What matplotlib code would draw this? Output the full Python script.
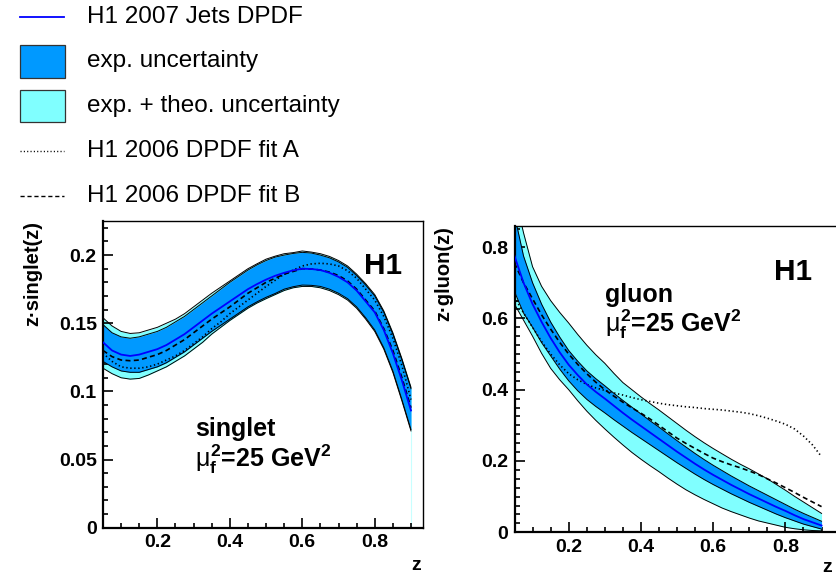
import numpy as np
import matplotlib
matplotlib.use("Agg")
import matplotlib.pyplot as plt
from matplotlib.lines import Line2D
from matplotlib.patches import Rectangle
from matplotlib.ticker import MultipleLocator

plt.rcParams['font.family'] = ['Liberation Sans', 'DejaVu Sans']
plt.rcParams['mathtext.fontset'] = 'custom'
plt.rcParams['mathtext.rm'] = 'Liberation Sans'
plt.rcParams['mathtext.it'] = 'Liberation Sans'
plt.rcParams['mathtext.bf'] = 'Liberation Sans:bold'

# z grid (0.05 .. 0.9, every 0.025)
zz = [0.05, 0.075, 0.1, 0.125, 0.15, 0.175, 0.2, 0.225, 0.25, 0.275, 0.3, 0.325,
      0.35, 0.375, 0.4, 0.425, 0.45, 0.475, 0.5, 0.525, 0.55, 0.575, 0.6, 0.625,
      0.65, 0.675, 0.7, 0.725, 0.75, 0.775, 0.8, 0.825, 0.85, 0.875, 0.9]

# --- singlet (left panel)
s_central = [.136, .130, .127, .126, .127, .129, .131, .134, .138, .142, .147, .152, .157, .1615, .166, .1705, .175, .1787,
             .182, .1848, .187, .1888, .190, .1898, .189, .187, .184, .180, .174, .166, .158, .145, .128, .108, .086]
s_exp_up = [.149, .143, .140, .139, .140, .142, .144, .147, .151, .155, .160, .165, .170, .175, .180, .1845, .189, .1928,
            .196, .1985, .200, .2012, .202, .2015, .200, .198, .195, .191, .185, .178, .170, .158, .142, .123, .102]
s_exp_lo = [.122, .118, .115, .114, .114, .116, .118, .121, .125, .129, .134, .139, .144, .1485, .153, .1575, .162, .1657,
            .169, .1718, .175, .1768, .178, .1778, .177, .175, .172, .168, .162, .154, .145, .132, .115, .094, .072]
s_tot_up = [.154, .148, .144, .1425, .143, .145, .147, .150, .153, .157, .162, .167, .172, .1765, .181, .1855, .190, .1936,
            .197, .1992, .201, .2018, .203, .2022, .201, .199, .196, .192, .186, .179, .171, .159, .143, .124, .103]
s_tot_lo = [.117, .113, .110, .109, .1095, .112, .115, .118, .122, .126, .131, .136, .142, .147, .152, .1565, .161, .1648,
            .168, .1710, .174, .1760, .177, .1770, .176, .174, .171, .167, .161, .153, .144, .131, .114, .093, .071]
s_fitB = [.130, .1255, .123, .1225, .123, .125, .127, .130, .134, .138, .143, .148, .153, .1575, .162, .167, .172, .176,
          .180, .183, .186, .188, .190, .1898, .189, .1875, .185, .181, .175, .167, .159, .146, .130, .110, .088]
s_fitA = [.128, .122, .118, .117, .117, .118, .120, .123, .126, .130, .135, .140, .146, .151, .157, .162, .167, .172,
          .177, .1815, .186, .189, .192, .1935, .194, .1935, .192, .1885, .183, .175, .167, .155, .139, .119, .094]

# --- gluon (right panel)
g_central = [.775, .700, .640, .590, .545, .505, .470, .441, .415, .394, .375, .355, .335, .316, .298, .280, .262, .244,
             .226, .209, .192, .176, .161, .147, .133, .120, .107, .095, .083, .071, .060, .048, .037, .028, .019]
g_exp_up = [.890, .775, .700, .640, .590, .548, .510, .480, .453, .431, .411, .390, .370, .351, .332, .313, .295, .276,
            .257, .239, .221, .204, .188, .173, .158, .144, .130, .117, .104, .091, .078, .065, .053, .042, .031]
g_exp_lo = [.675, .615, .575, .532, .495, .458, .425, .397, .373, .353, .335, .316, .298, .280, .263, .246, .229, .212,
            .195, .179, .163, .148, .134, .121, .108, .096, .084, .073, .062, .051, .041, .032, .023, .016, .009]
g_tot_up = [.950, .840, .745, .690, .650, .617, .587, .555, .525, .498, .474, .446, .420, .400, .380, .361, .343, .324,
            .305, .286, .268, .251, .235, .220, .205, .191, .178, .164, .150, .134, .118, .101, .085, .069, .053]
g_tot_lo = [.640, .595, .550, .502, .460, .428, .400, .369, .340, .314, .290, .267, .245, .224, .205, .187, .170, .152,
            .135, .119, .105, .092, .080, .068, .058, .049, .040, .032, .026, .020, .014, .010, .007, .005, .004]
g_fitB = [.755, .700, .655, .610, .570, .533, .500, .471, .445, .421, .400, .382, .365, .349, .334, .318, .300, .282,
          .264, .249, .235, .221, .208, .198, .189, .181, .172, .162, .150, .138, .125, .112, .098, .085, .072]
g_fitA = [.660, .615, .575, .535, .500, .470, .445, .428, .415, .405, .398, .391, .385, .378, .372, .367, .362, .358,
          .355, .352, .350, .347, .345, .343, .340, .337, .333, .327, .320, .312, .303, .290, .270, .245, .212]

DARK = '#0099ff'
LIGHT = '#80ffff'
W, H = 836, 576

fig = plt.figure(figsize=(W / 100, H / 100), dpi=100)


def fx(px):
    return px / W


def fy(py):
    return 1 - py / H


def fmt(v, p):
    return '0' if abs(v) < 1e-9 else '%g' % round(v, 3)


def panel(rect, z, cen, eu, el, tu, tl, fb, fa, ylim, ymaj, ymin):
    ax = fig.add_axes(rect)
    ax.fill_between(z, tl, tu, color=LIGHT, lw=0, zorder=1)
    ax.fill_between(z, el, eu, color=DARK, lw=0, zorder=2)
    for b in (tu, tl, eu, el):
        ax.plot(z, b, color='black', lw=0.7, zorder=3)
    ax.plot(z, cen, color='#0000ff', lw=1.3, zorder=5)
    ax.plot(z, fb, color='black', lw=1.2, ls=(0, (3, 2)), zorder=4)
    ax.plot(z, fa, color='black', lw=1.2, ls=(0, (0.8, 1.6)), zorder=4)
    ax.set_ylim(*ylim)
    ax.xaxis.set_major_locator(MultipleLocator(0.2))
    ax.xaxis.set_minor_locator(MultipleLocator(0.05))
    ax.yaxis.set_major_locator(MultipleLocator(ymaj))
    ax.yaxis.set_minor_locator(MultipleLocator(ymin))
    ax.yaxis.set_major_formatter(plt.FuncFormatter(fmt))
    ax.tick_params(which='both', direction='in', top=False, right=False, width=1.2)
    ax.tick_params(which='major', length=7, labelsize=14, pad=4.5)
    ax.tick_params(which='minor', length=3.5)
    ax.spines['left'].set_linewidth(1.6)
    ax.spines['bottom'].set_linewidth(1.6)
    ax.spines['top'].set_linewidth(1.0)
    ax.spines['right'].set_linewidth(1.0)
    return ax


axl = panel([fx(103), fy(527.7), fx(423.3) - fx(103), fy(221) - fy(527.7)],
            zz, s_central, s_exp_up, s_exp_lo, s_tot_up, s_tot_lo, s_fitB, s_fitA,
            (0, 0.225), 0.05, 0.01)
axl.set_xlim(0.05, 0.934)
axl.plot([zz[-1], zz[-1]], [0, s_tot_lo[-1]], color='#c8ffff', lw=0.8, zorder=1)

axr = panel([fx(514.5), fy(532.3), 1.0 - fx(514.5), fy(225.7) - fy(532.3)],
            zz, g_central, g_exp_up, g_exp_lo, g_tot_up, g_tot_lo, g_fitB, g_fitA,
            (0, 0.86), 0.2, 0.025)
axr.set_xlim(0.05, 0.94)
axr.spines['right'].set_visible(False)

for ax in (axl, axr):
    for lab in ax.get_xticklabels() + ax.get_yticklabels():
        lab.set_fontweight('bold')

# axis titles
fig.text(fx(33), fy(221), 'z\u00b7singlet(z)', rotation=90, ha='center', va='top',
         fontsize=14.5, fontweight='bold')
fig.text(fx(444), fy(226), 'z\u00b7gluon(z)', rotation=90, ha='center', va='top',
         fontsize=14.5, fontweight='bold')
fig.text(fx(421), fy(565), 'z', ha='right', va='center', fontsize=14, fontweight='bold')
fig.text(fx(832), fy(567), 'z', ha='right', va='center', fontsize=14, fontweight='bold')

# H1 labels and annotations
fig.text(fx(383), fy(266.5), 'H1', ha='center', va='center', fontsize=21.5, fontweight='bold')
fig.text(fx(793.5), fy(271.5), 'H1', ha='center', va='center', fontsize=21.5, fontweight='bold')
mu = r'$\mu_{\mathbf{f}}^{\mathbf{2}}$=25 GeV$^{\mathbf{2}}$'
fig.text(fx(195), fy(436), 'singlet', ha='left', va='baseline', fontsize=18, fontweight='bold')
fig.text(fx(195), fy(467), mu, ha='left', va='baseline', fontsize=18, fontweight='bold')
fig.text(fx(605), fy(302), 'gluon', ha='left', va='baseline', fontsize=18, fontweight='bold')
fig.text(fx(605), fy(332), mu, ha='left', va='baseline', fontsize=18, fontweight='bold')

# legend drawn in figure pixels
rows = [16.7, 61.5, 106, 151, 196]
labels = ['H1 2007 Jets DPDF', 'exp. uncertainty', 'exp. + theo. uncertainty',
          'H1 2006 DPDF fit A', 'H1 2006 DPDF fit B']
fig.add_artist(Line2D([fx(20), fx(64)], [fy(rows[0])] * 2, color='#0000ff', lw=1.3))
for r, c in ((rows[1], DARK), (rows[2], LIGHT)):
    fig.add_artist(Rectangle((fx(19.5), fy(r + 16)), fx(45), fy(0) - fy(32),
                             facecolor=c, edgecolor='#333333', lw=0.9))
fig.add_artist(Line2D([fx(20), fx(64)], [fy(rows[3])] * 2, color='black', lw=1.0,
                      ls=(0, (0.8, 1.6))))
fig.add_artist(Line2D([fx(20), fx(64)], [fy(rows[4])] * 2, color='black', lw=1.0,
                      ls=(0, (3, 2))))
for r, t in zip(rows, labels):
    fig.text(fx(87), fy(r), t, ha='left', va='center', fontsize=17.5)

fig.savefig('out.png', dpi=100)
